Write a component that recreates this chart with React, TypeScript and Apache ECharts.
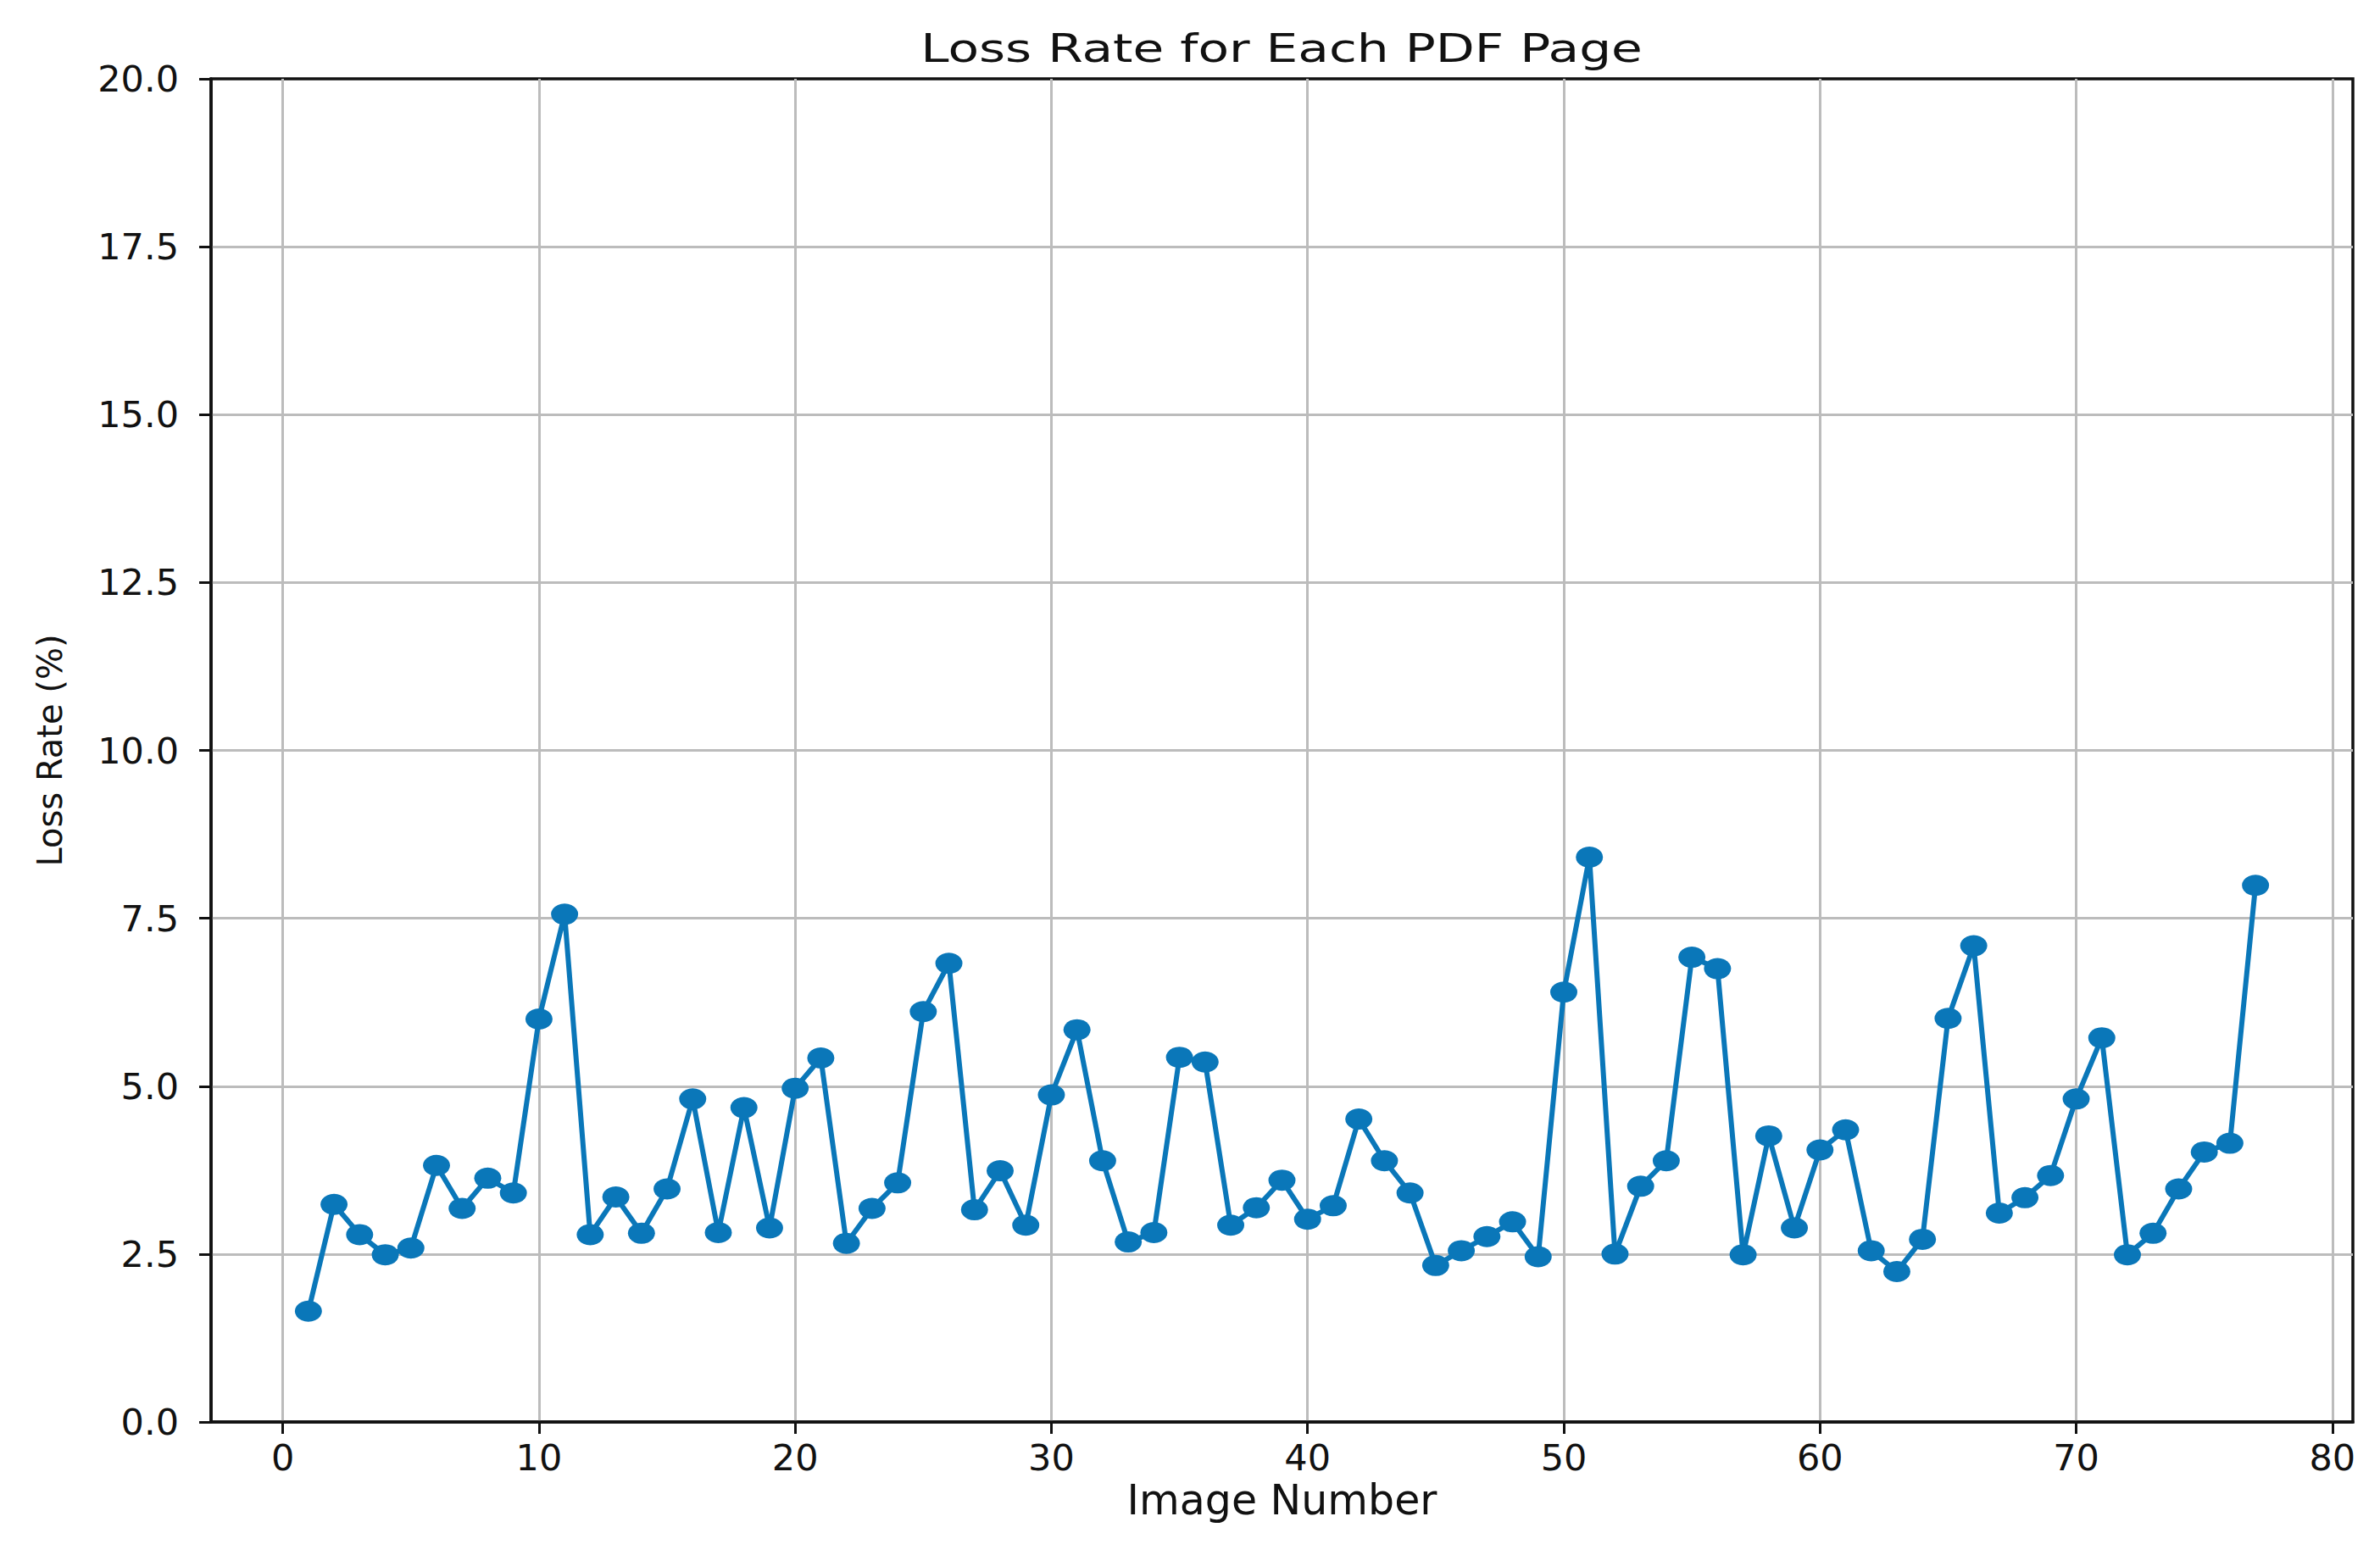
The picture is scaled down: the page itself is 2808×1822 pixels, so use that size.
import React, { useEffect, useRef } from "react";
import * as echarts from "echarts";

const imageNumbers = [
  1, 2, 3, 4, 5, 6, 7, 8, 9, 10, 11, 12, 13, 14, 15, 16, 17, 18, 19, 20,
  21, 22, 23, 24, 25, 26, 27, 28, 29, 30, 31, 32, 33, 34, 35, 36, 37, 38, 39, 40,
  41, 42, 43, 44, 45, 46, 47, 48, 49, 50, 51, 52, 53, 54, 55, 56, 57, 58, 59, 60,
  61, 62, 63, 64, 65, 66, 67, 68, 69, 70, 71, 72, 73, 74, 75, 76, 77,
];

const lossRates = [
  1.65, 3.24, 2.79, 2.49, 2.59, 3.82, 3.18, 3.63, 3.41, 6.0,
  7.56, 2.79, 3.35, 2.81, 3.47, 4.81, 2.82, 4.68, 2.89, 4.97,
  5.42, 2.66, 3.18, 3.56, 6.11, 6.83, 3.16, 3.74, 2.93, 4.87,
  5.84, 3.89, 2.68, 2.82, 5.43, 5.36, 2.93, 3.19, 3.6, 3.02,
  3.22, 4.51, 3.89, 3.41, 2.33, 2.55, 2.76, 2.98, 2.46, 6.4,
  8.41, 2.5, 3.51, 3.89, 6.92, 6.75, 2.49, 4.26, 2.89, 4.05,
  4.35, 2.55, 2.24, 2.72, 6.01, 7.09, 3.11, 3.34, 3.67, 4.81,
  5.72, 2.49, 2.81, 3.47, 4.02, 4.15, 7.99,
];

const xTickValues = [0, 10, 20, 30, 40, 50, 60, 70, 80];

const FONT = "DejaVu Sans";
const LINE_COLOR = "#0a77b9";
const AXIS_COLOR = "#111111";
const GRID_COLOR = "#bcbcbc";

export default function App() {
  const ref = useRef<HTMLDivElement>(null);

  useEffect(() => {
    document.body.style.margin = "0";
    const chart = echarts.init(ref.current as HTMLDivElement, null, { renderer: "svg" });
    const data = lossRates.map((v, i) => [imageNumbers[i], v]);
    chart.setOption({
      animation: false,
      backgroundColor: "#ffffff",
      textStyle: { fontFamily: FONT },
      graphic: [
        {
          type: "text",
          x: 1512,
          y: 57,
          scaleX: 1.3,
          style: {
            text: "Loss Rate for Each PDF Page",
            align: "center",
            verticalAlign: "middle",
            fontFamily: FONT,
            fontSize: 46,
            fill: AXIS_COLOR,
          },
        },
      ],
      grid: {
        left: 249,
        right: 32,
        top: 93,
        bottom: 144,
        show: true,
        borderColor: AXIS_COLOR,
        borderWidth: 3.5,
        backgroundColor: "transparent",
      },
      xAxis: {
        type: "value",
        min: -2.8,
        max: 80.8,
        name: "Image Number",
        nameLocation: "middle",
        nameGap: 67,
        nameTextStyle: { fontFamily: FONT, fontSize: 49, color: AXIS_COLOR, verticalAlign: "top" },
        axisLine: { show: true, onZero: false, lineStyle: { color: AXIS_COLOR, width: 3.5 } },
        axisTick: { show: true, length: 14, customValues: xTickValues, lineStyle: { color: AXIS_COLOR, width: 3 } },
        axisLabel: { customValues: xTickValues, margin: 20, fontSize: 43, color: AXIS_COLOR, fontFamily: FONT },
        splitLine: { show: true, lineStyle: { color: GRID_COLOR, width: 3 } },
      },
      yAxis: {
        type: "value",
        min: 0,
        max: 20,
        interval: 2.5,
        name: "Loss Rate (%)",
        nameLocation: "middle",
        nameGap: 170,
        nameTextStyle: { fontFamily: FONT, fontSize: 40, color: AXIS_COLOR },
        axisLine: { show: true, onZero: false, lineStyle: { color: AXIS_COLOR, width: 3.5 } },
        axisTick: { show: true, length: 14, lineStyle: { color: AXIS_COLOR, width: 3 } },
        axisLabel: {
          margin: 38,
          fontSize: 43,
          color: AXIS_COLOR,
          fontFamily: FONT,
          formatter: (v: number) => v.toFixed(1),
        },
        splitLine: { show: true, showMinLine: false, showMaxLine: false, lineStyle: { color: GRID_COLOR, width: 3 } },
      },
      series: [
        {
          type: "line",
          data,
          symbol: "circle",
          symbolSize: [32, 25],
          showAllSymbol: true,
          lineStyle: { color: LINE_COLOR, width: 6 },
          itemStyle: { color: LINE_COLOR },
          z: 3,
        },
      ],
    });
    return () => chart.dispose();
  }, []);

  return <div ref={ref} style={{ width: 2808, height: 1822 }} />;
}
